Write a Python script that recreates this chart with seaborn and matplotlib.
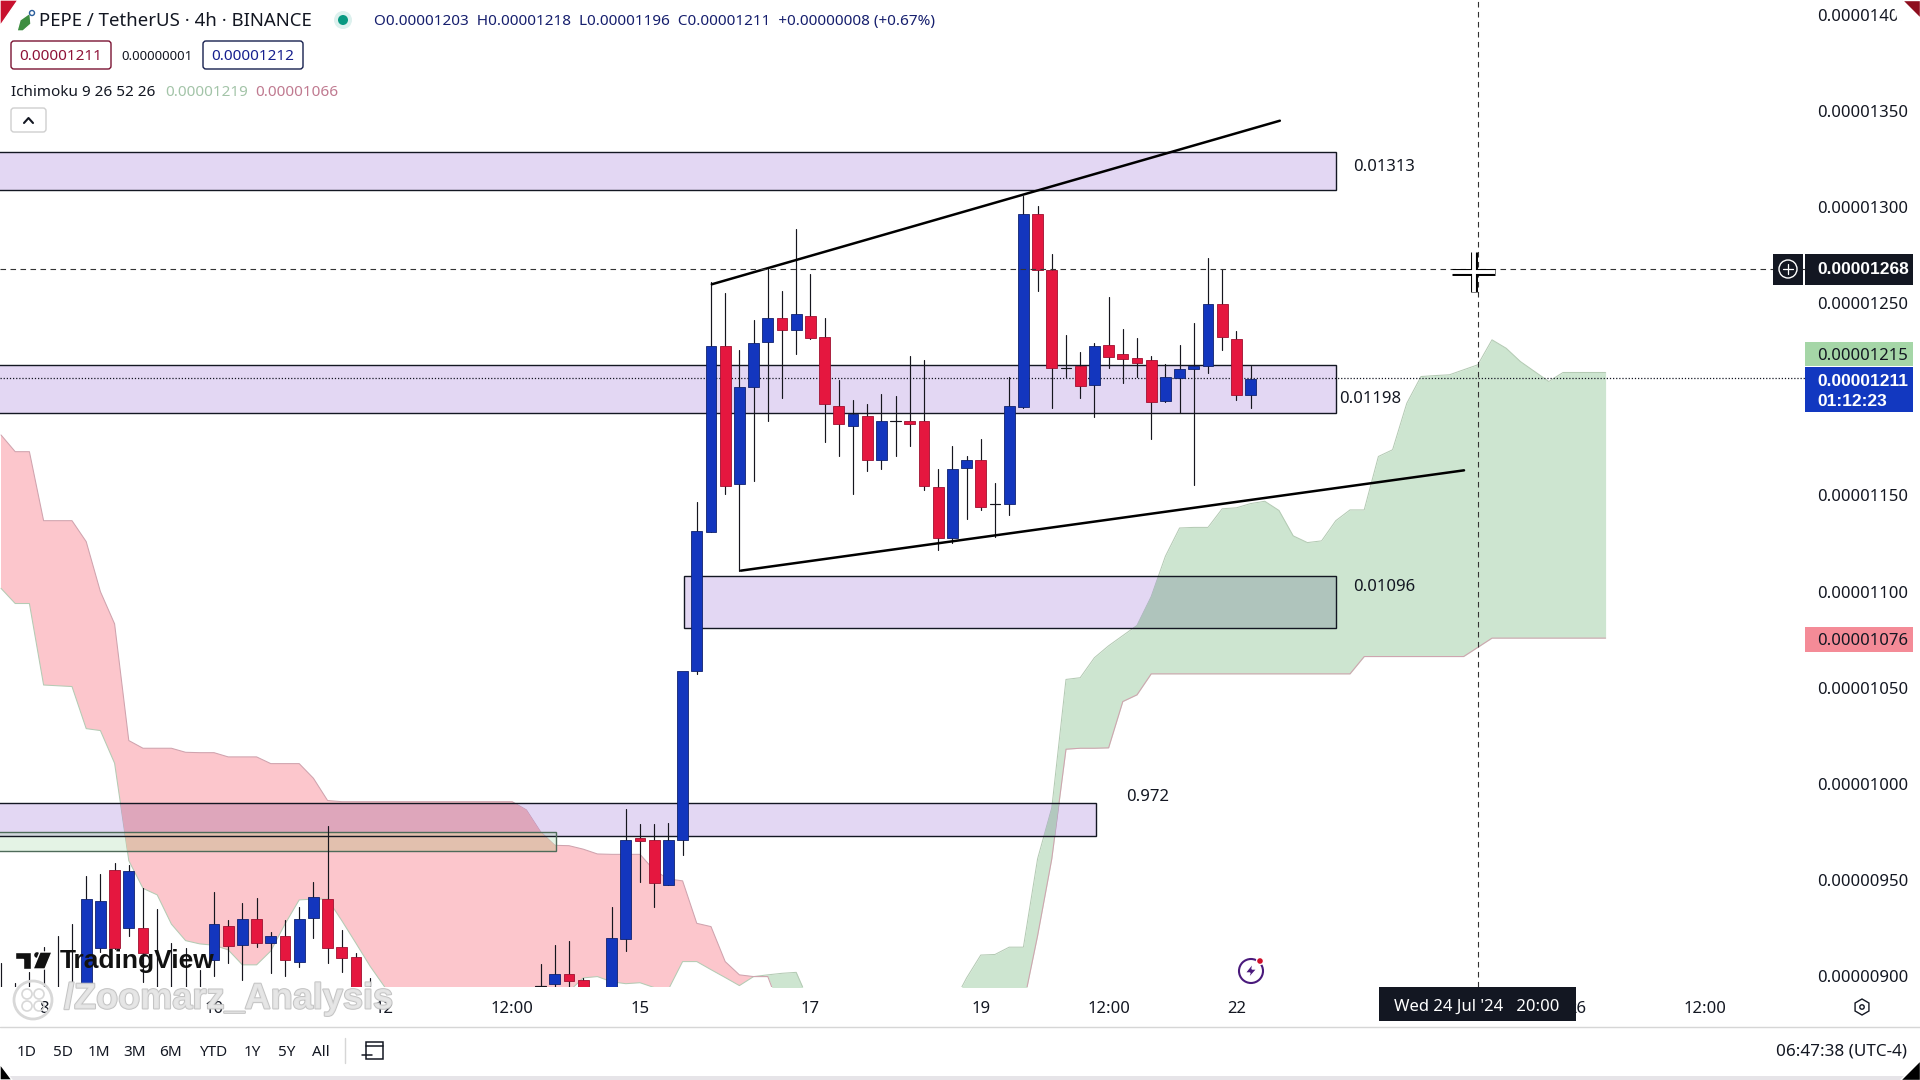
import pandas as pd
import seaborn as sns
import matplotlib.pyplot as plt
import matplotlib.patheffects as pe
from matplotlib.patches import Circle, FancyBboxPatch, Polygon, Rectangle, RegularPolygon

# prices are in units of 1e-8, x is the bar number (4h bars, 0 = 15 Jul 00:00)
cand_bars = [-45, -44, -43, -42, -41, -40, -39, -38, -37, -36, -35, -34, -33, -32, -31,
             -30, -29, -28, -27, -26, -25, -24, -23, -22, -21, -20, -19,
             -7, -6, -5, -4, -2, -1, 0, 1, 2, 3, 4,
             5, 6, 7, 8, 9, 10, 11, 12, 13, 14, 15, 16, 17, 18, 19, 20, 21, 22, 23, 24,
             25, 26, 27, 28, 29, 30, 31, 32, 33, 34, 35, 36, 37, 38, 39, 40, 41, 42, 43]
cand_open = [885, 885, 885, 885, 885, 885, 895.4, 914.8, 955, 924.8, 925, 885, 885, 885, 885,
             908.5, 926, 916.3, 929.5, 917.4, 920.9, 907.5, 930.4, 940.1, 915, 909.8, 885,
             894.8, 895.7, 900.9, 898, 880, 919.5, 971.7, 970.6, 947.6, 970.8, 1058.7,
             1131.2, 1227.8, 1156.2, 1206.5, 1230.1, 1242.2, 1236.3, 1243.2, 1232.5, 1196.4, 1186.4,
             1191.4, 1168.3, 1188.6, 1188.6, 1188.6, 1154.3, 1128.1, 1164.5, 1168.3,
             1145.4, 1145.4, 1196.2, 1296.5, 1267.3, 1216.2, 1217.6, 1207.3, 1228.1, 1223.5, 1221.4,
             1220.5, 1199.2, 1211.3, 1216, 1217.2, 1249.5, 1231.3, 1202.5]
cand_close = [882, 882, 882, 882, 882, 882, 940.1, 938.9, 914.8, 954.5, 911.8, 882, 882, 882, 882,
              927.1, 915.8, 929.5, 917.4, 920.9, 908.5, 929.5, 941, 914.8, 909.6, 885, 882,
              894.8, 900.9, 897.6, 894, 919.8, 970.6, 970.3, 948.6, 970.6, 1058.7, 1131.6,
              1227.8, 1155.1, 1206.5, 1229.2, 1242.2, 1236.3, 1244.3, 1232.1, 1197.5, 1187.4, 1192.6,
              1168.3, 1188.6, 1188.6, 1187.4, 1155.1, 1128.1, 1163.6, 1168.3, 1144.2,
              1145.4, 1196.4, 1296.5, 1267.3, 1216.2, 1216.2, 1207.2, 1228, 1222.3, 1221.2, 1219.1,
              1198.5, 1211.5, 1216, 1217.2, 1249.5, 1232.3, 1202.5, 1210.5]
cand_high = [906.8, 896.2, 902, 915, 920.8, 927, 952, 952.9, 958.6, 957.8, 946, 934.9, 917, 914.4, 903,
             943.9, 929.2, 938.2, 940.4, 923.1, 929.2, 936.1, 949.1, 978.2, 924, 911.8, 898.8,
             906.1, 916.2, 918.1, 898.8, 936.1, 986.9, 978.9, 978.9, 979.8, 972, 1146.8,
             1261.3, 1255.5, 1225.7, 1241.3, 1268.2, 1256.6, 1288.7, 1265.4, 1242.5, 1210.1, 1199.7,
             1197.6, 1203, 1202, 1222.8, 1220.5, 1163.8, 1175.8, 1170.4, 1179.4,
             1156.7, 1211.5, 1305.8, 1300.6, 1275.7, 1233.5, 1224.7, 1229.2, 1253.1, 1236.6, 1231.8,
             1222.6, 1218.4, 1228.3, 1239.9, 1273.8, 1267.9, 1235.6, 1217.6]
cand_low = [870, 870, 870, 870, 870, 870, 890, 912.4, 914, 921, 897, 870, 870, 870, 870,
            900, 906.6, 898, 915.3, 901.4, 900.2, 904.9, 920, 907, 902.3, 880, 870,
            880, 890, 890, 890, 880, 913, 948.8, 935.8, 947.6, 963.2, 1057,
            1131.2, 1150.6, 1110.9, 1157.6, 1188.8, 1200.6, 1223.6, 1231.6, 1177.9, 1170.8, 1150.6,
            1163, 1164, 1170.8, 1176, 1153, 1121.9, 1125.2, 1138, 1142.7,
            1128.3, 1139.9, 1195.7, 1256.4, 1195.7, 1211.8, 1200.6, 1191, 1216.5, 1208.7, 1211.8,
            1179.4, 1198.7, 1192.8, 1155.5, 1213.8, 1225.7, 1199.7, 1195.7]

cloud_bars = list(range(-45, 69))
span_a = [1101.7, 1093.8, 1093.8, 1051.4, 1051, 1050.6, 1028.7, 1027.7, 1010.7, 960, 945.6, 942.2,
          927, 918.4, 916.7, 916, 913.6, 905.8, 905.8, 913, 927, 939.6, 940, 940, 928.8, 917, 905,
          894.5, 880, 880, 880, 880, 880, 880, 880, 880, 880, 880, 880, 880, 892, 899, 899.7, 897,
          896, 896.5, 894, 893, 907.5, 907.5, 903.3, 899.2, 895, 899.7, 900.6, 901.4, 901.9, 885,
          880, 880, 880, 880, 880, 880, 880, 880, 880, 885, 899, 910.9, 911.2, 915, 915, 961,
          987.5, 1054.3, 1055.2, 1065.6, 1071.8, 1077.1, 1082.4, 1097.4, 1118.4, 1133.1, 1133.4, 1133.4,
          1143.1, 1143.6, 1145.8, 1147, 1142.2, 1129, 1125.5, 1126.4, 1136.9, 1142.5, 1142.5, 1170.3,
          1173.8, 1198, 1211.9, 1212.4, 1212.8, 1215.4, 1218, 1231, 1226.6, 1219.7, 1214.5, 1209.3,
          1214, 1214, 1214, 1214]
span_b = [1181.5, 1172.8, 1172.8, 1136.9, 1136.9, 1136.9, 1126, 1100, 1083.2, 1022.5, 1018.5, 1018.5,
          1018.5, 1016.4, 1016.2, 1016.2, 1014, 1014, 1014, 1010.5, 1010.5, 1010.5, 1002.9, 991.3,
          990.7, 990.7, 990.7, 990.7, 990.7, 990.7, 990.7, 990.7, 990.7, 990.7, 990.7, 990.7, 990.7,
          986.4, 975, 968, 967.8, 966, 963.5, 963.3, 963.3, 963.3, 955, 950.5, 949.5, 927.4, 925.7,
          907.5, 900.6, 899.7, 899.7, 880, 880, 880, 880, 880, 880, 880, 880, 880, 880, 880, 880, 880,
          880, 880, 880, 880, 885, 921, 961, 1018, 1018.5, 1018.5, 1018.7, 1042.8, 1046.3, 1057.2,
          1057.2, 1057.2, 1057.2, 1057.2, 1057.2, 1057.2, 1057.2, 1057.2, 1057.2, 1057.2, 1057.2,
          1057.2, 1057.2, 1057.2, 1066.2, 1066.2, 1066.2, 1066.2, 1066.2, 1066.2, 1066.2, 1066.2, 1071,
          1075.8, 1075.8, 1075.8, 1075.8, 1075.8, 1075.8, 1075.8, 1075.8, 1075.8]

zone_left = [-50, -50, 3.1, -50, -50]
zone_right = [49, 49, 49, 32.1, -5.9]
zone_top = [1328.6, 1217.7, 1107.9, 990, 974.8]
zone_bottom = [1308.8, 1193, 1081, 972.6, 964.9]

trend_x = [5.06, 45.06]
trend_y = [1259.9, 1345]
support_x = [7.1, 58.03]
support_y = [1110.9, 1163.1]

price_ticks = [900, 950, 1000, 1050, 1100, 1150, 1250, 1300, 1350, 1400]
price_labels = ["0.00000900", "0.00000950", "0.00001000", "0.00001050", "0.00001100",
                "0.00001150", "0.00001250", "0.00001300", "0.00001350", "0.00001400"]
time_ticks = [-42, -30, -18, -9, 0, 12, 24, 33, 42, 66, 75]
time_labels = ["8", "10", "12", "12:00", "15", "17", "19", "12:00", "22", "26", "12:00"]
range_labels = ["1D", "5D", "1M", "3M", "6M", "YTD", "1Y", "5Y", "All"]
range_xpos = [27, 63, 99, 135, 171, 213, 252, 287, 321]

BLUE = "#1336BE"
RED = "#E5173F"
INK = "#131722"
BOLD_FONT = ["Liberation Sans", "DejaVu Sans"]
PX_PER_BAR = 14.2
PANE_RIGHT = 1808
PANE_BOTTOM = 987

sns.set_theme(style="white")
plt.rcParams["font.family"] = ["Noto Sans", "DejaVu Sans"]

fig = plt.figure(figsize=(19.2, 10.8), dpi=100, facecolor="white")
ax = fig.add_axes([0, 1 - PANE_BOTTOM / 1080, PANE_RIGHT / 1920, PANE_BOTTOM / 1080])

# Ichimoku cloud
cloud = pd.DataFrame({"bar": cloud_bars, "a": span_a, "b": span_b})
red_cloud = ax.fill_between(cloud["bar"], cloud["a"], cloud["b"], where=cloud["b"] >= cloud["a"],
                            interpolate=True, color="#FCC6CC", linewidth=0, zorder=1)
green_cloud = ax.fill_between(cloud["bar"], cloud["a"], cloud["b"], where=cloud["a"] >= cloud["b"],
                              interpolate=True, color="#CDE5D0", linewidth=0, zorder=1)
sns.lineplot(data=cloud, x="bar", y="a", color="#B4CBB4", linewidth=0.75, ax=ax, zorder=1.5)
sns.lineplot(data=cloud, x="bar", y="b", color="#CFA3AE", linewidth=0.75, ax=ax, zorder=1.5)

# drawn zones
zone_colors = ["#9F78D8", "#9F78D8", "#9F78D8", "#9F78D8", "#A5D6A7"]
zone_edges = [INK, INK, INK, INK, "#4E6B5A"]
zone_on_red = ["#DEA6BB", "#DEA6BB", "#DEA6BB", "#DEA6BB", "#E2C0AE"]
zone_on_green = ["#AFC4BC", "#AFC4BC", "#AFC4BC", "#B2C8BE", "#CDE5D0"]
for left, right, top, bottom, fc, ec, on_red, on_green in zip(zone_left, zone_right, zone_top,
                                                              zone_bottom, zone_colors, zone_edges,
                                                              zone_on_red, zone_on_green):
    ax.add_patch(Rectangle((left, bottom), right - left, top - bottom, facecolor=fc, alpha=0.29,
                           edgecolor="none", zorder=2))
    # the overlap with the cloud has its own mixed colour
    for coll, col in ((red_cloud, on_red), (green_cloud, on_green)):
        for path in coll.get_paths():
            part = Rectangle((left, bottom), right - left, top - bottom, facecolor=col,
                             edgecolor="none", zorder=2.1)
            ax.add_patch(part)
            part.set_clip_path(path, transform=ax.transData)
    ax.add_patch(Rectangle((left, bottom), right - left, top - bottom, fill=False,
                           edgecolor=ec, linewidth=1.0, zorder=2.2))

# last price line, under the candles
ax.axhline(1211, color=INK, linewidth=0.9, linestyle=(0, (1, 1.5)), zorder=2.5)

# wicks as one long table, bodies as bars
wicks = pd.DataFrame({"bar": cand_bars + cand_bars, "price": cand_high + cand_low})
sns.lineplot(data=wicks, x="bar", y="price", units="bar", estimator=None, color="#16161E",
             linewidth=0.85, ax=ax, zorder=3)
for bar, op, cl in zip(cand_bars, cand_open, cand_close):
    up = cl >= op
    if op == cl:
        ax.plot([bar - 0.37, bar + 0.37], [op, op], color="#16161E", linewidth=0.85, zorder=4)
        continue
    ax.bar(bar, abs(cl - op), bottom=min(op, cl), width=0.76, color=BLUE if up else RED,
           edgecolor="#10226E" if up else "#A01030", linewidth=0.6, zorder=4)

# trend lines
sns.lineplot(x=trend_x, y=trend_y, color="black", linewidth=1.8, ax=ax, zorder=5)
sns.lineplot(x=support_x, y=support_y, color="black", linewidth=1.8, ax=ax, zorder=5)

# crosshair
ax.axhline(1268, color="#333333", linewidth=0.8, linestyle=(0, (5, 4)), zorder=6)
ax.axvline(59, color="#333333", linewidth=0.8, linestyle=(0, (5, 4)), zorder=6)

ax.set_xlim(-640 / PX_PER_BAR, (PANE_RIGHT - 640) / PX_PER_BAR)
ax.set_ylim(1250 + (303.3 - PANE_BOTTOM) / 1.922, 1250 + 303.3 / 1.922)
ax.yaxis.tick_right()
ax.set_yticks(price_ticks, price_labels)
ax.set_xticks(time_ticks, time_labels)
ax.tick_params(axis="y", length=0, pad=6.5, labelsize=12, labelcolor=INK)
ax.tick_params(axis="x", length=0, pad=10, labelsize=12, labelcolor=INK)
for tick in ax.get_yticklabels():
    tick.set_verticalalignment("center_baseline")
ax.set_xlabel("")
ax.set_ylabel("")
sns.despine(ax=ax, left=True, bottom=True, right=True, top=True)

# screen furniture, in screen pixels
ui = fig.add_axes([0, 0, 1, 1], facecolor="none", zorder=10)
ui.set_xlim(0, 1920)
ui.set_ylim(1080, 0)
ui.axis("off")


def label(x, y, text, size=12, color=INK, ha="left", **kw):
    return ui.text(x, y + 2, text, fontsize=size, color=color, ha=ha, va="center", **kw)


def box(x0, y0, x1, y1, fc, ec="none", lw=1.0, rounded=False):
    style = "round,pad=0,rounding_size=3" if rounded else "square,pad=0"
    ui.add_patch(FancyBboxPatch((x0, y0), x1 - x0, y1 - y0, boxstyle=style, facecolor=fc,
                                edgecolor=ec, linewidth=lw))


# level notes
label(1353, 165, "0.01313")
label(1339, 397, "0.01198")
label(1353, 585, "0.01096")
label(1126, 795, "0.972")

# header
ui.add_patch(Polygon([(17, 31), (20, 20), (30, 13), (31, 24), (23, 31)], facecolor="#3E8E41"))
ui.add_patch(Circle((32, 13), 2.5, facecolor="none", edgecolor="#2A5D9C", linewidth=1))
label(39, 19, "PEPE / TetherUS · 4h · BINANCE", size=13.4)
ui.add_patch(Circle((343, 20), 9, facecolor="#DDF1EE", edgecolor="none"))
ui.add_patch(Circle((343, 20), 5, facecolor="#089981", edgecolor="none"))
label(374, 19, "O0.00001203  H0.00001218  L0.00001196  C0.00001211  +0.00000008 (+0.67%)",
      size=11, color="#161F6E")
box(11, 41, 111, 69, "white", "#7A1232", 1.0, rounded=True)
label(61, 54, "0.00001211", size=11, color="#8E1238", ha="center")
label(157, 54, "0.00000001", size=9.5, ha="center")
box(203, 41, 303, 69, "white", "#161F4E", 1.0, rounded=True)
label(253, 54, "0.00001212", size=11, color="#161F8E", ha="center")
label(11, 90, "Ichimoku 9 26 52 26", size=11)
label(165, 90, "0.00001219", size=11, color="#A3C4A8")
label(255, 90, "0.00001066", size=11, color="#C07A90")
box(11, 108, 46, 132, "white", "#CFCFCF", 1.0, rounded=True)
ui.plot([24, 28.5, 33], [123, 118, 123], color=INK, linewidth=1.5)

# price tags
box(1805, 342, 1913, 366, "#A5D6A7")
label(1817, 354, "0.00001215", size=12)
box(1805, 367, 1913, 412, "#1238C0")
label(1817, 379, "0.00001211", size=12.5, color="white", fontweight="bold", family=BOLD_FONT)
label(1817, 399, "01:12:23", size=12.5, color="white", fontweight="bold", family=BOLD_FONT)
box(1805, 627, 1913, 652, "#F48B97")
label(1817, 639, "0.00001076", size=12)
box(1773, 254, 1803, 285, "#131722")
box(1805, 254, 1913, 285, "#131722")
label(1817, 268, "0.00001268", size=12.5, color="white", fontweight="bold", family=BOLD_FONT)
ui.add_patch(Circle((1788, 269), 9, facecolor="none", edgecolor="white", linewidth=1))
ui.plot([1783, 1793], [269, 269], color="white", linewidth=0.9)
ui.plot([1788, 1788], [264, 274], color="white", linewidth=0.9)

# cursor
for lw, col in ((5.0, "black"), (2.8, "white")):
    ui.plot([1452, 1495], [272, 272], color=col, linewidth=lw, solid_capstyle="butt")
    ui.plot([1474, 1474], [252, 292], color=col, linewidth=lw, solid_capstyle="butt")

# date tag over the "26" tick
box(1379, 987, 1576, 1021, "#131722")
label(1477, 1005, "Wed 24 Jul '24   20:00", size=12, color="white", ha="center")

# lightning badge
ui.add_patch(Circle((1251, 971), 12, facecolor="white", edgecolor="#4A1A7C", linewidth=1.5))
ui.add_patch(Polygon([(1253, 963), (1245, 973), (1250, 973), (1248, 979), (1257, 969), (1252, 969)],
                     facecolor="#4A1A7C"))
ui.add_patch(Circle((1260, 961), 3.5, facecolor="#D0102A"))

# TradingView mark and watermark
ui.add_patch(Polygon([(15, 952), (31, 952), (31, 969), (23, 969), (23, 959), (15, 959)], facecolor="#111111"))
ui.add_patch(Circle((37, 955), 3.5, facecolor="#111111"))
ui.add_patch(Polygon([(40, 952), (52, 952), (45, 969), (33, 969)], facecolor="#111111"))
label(60, 959, "TradingView", size=19, color="#111111", fontweight="bold", family=BOLD_FONT)
ui.add_patch(Circle((33, 1000), 19, facecolor="none", edgecolor="#D8D8D8", linewidth=2))
for cx, cy in ((27, 994), (39, 994), (27, 1006), (39, 1006)):
    ui.add_patch(Circle((cx, cy), 5, facecolor="none", edgecolor="#D8D8D8", linewidth=1.2))
wm = label(64, 997, "/Zoomarz_Analysis", size=26, color="#E6E6E6", fontweight="bold", alpha=0.9,
           family=BOLD_FONT)
wm.set_path_effects([pe.withStroke(linewidth=1.4, foreground="#BDBDBD")])

# bottom bar
ui.plot([0, 1920], [1027, 1027], color="#D6D6D6", linewidth=1)
for xpos, txt in zip(range_xpos, range_labels):
    label(xpos, 1050, txt, size=11, ha="center")
ui.plot([345, 345], [1038, 1063], color="#D6D6D6", linewidth=1)
ui.add_patch(Rectangle((366, 1042), 17, 17, facecolor="none", edgecolor=INK, linewidth=1.1))
ui.plot([366, 383], [1046, 1046], color=INK, linewidth=1.1)
ui.plot([362, 372], [1055, 1055], color=INK, linewidth=1.1)
label(1907, 1049, "06:47:38 (UTC-4)", size=12.3, ha="right")
ui.add_patch(RegularPolygon((1862, 1007), 6, radius=8, facecolor="none", edgecolor=INK, linewidth=1))
ui.add_patch(Circle((1862, 1007), 2.2, facecolor="none", edgecolor=INK, linewidth=1))
ui.add_patch(Rectangle((0, 1076), 1920, 4, facecolor="#E6E4E8", edgecolor="none"))

# rounded video corners
ui.add_patch(Polygon([(0, 0), (18, 0), (0, 26)], facecolor="#C8102E"))
ui.add_patch(Polygon([(1893, 0), (1920, 0), (1920, 26), (1898, 20)], facecolor="white"))
ui.add_patch(Polygon([(1902, 0), (1920, 0), (1920, 18)], facecolor="#8E0E1E"))
ui.add_patch(Polygon([(0, 1064), (12, 1080), (0, 1080)], facecolor="black"))
ui.add_patch(Polygon([(1920, 1060), (1920, 1080), (1900, 1080)], facecolor="black"))

fig.savefig("out.png", dpi=100)
plt.close(fig)
